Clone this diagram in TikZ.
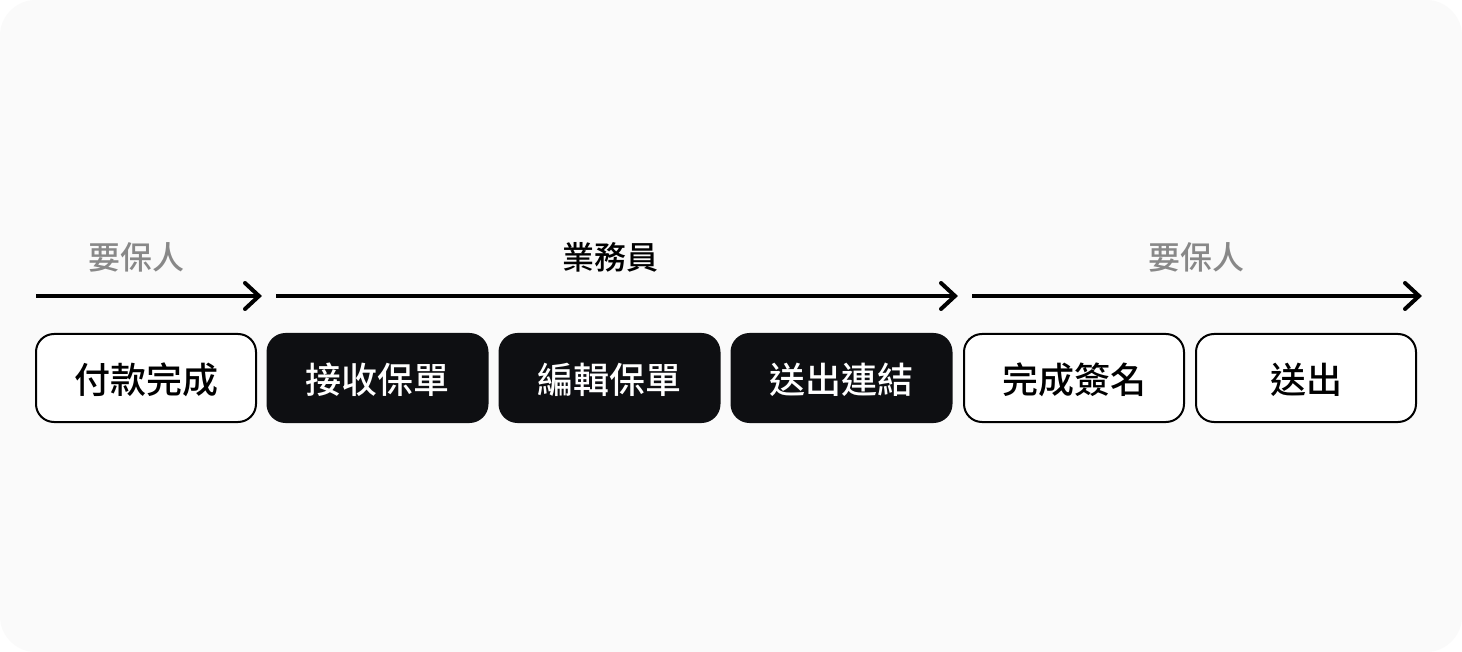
\documentclass[tikz,border=0pt]{standalone}
\usepackage{fontspec}
\newfontfamily\cjk{Noto Sans CJK TC}
\newfontfamily\cjkm{Noto Sans CJK TC Medium}
\definecolor{bgc}{HTML}{FAFAFA}
\definecolor{darkbox}{HTML}{0E0F12}
\definecolor{graytxt}{HTML}{888888}
\newcommand\steptxt[1]{\raisebox{-2pt}[\height][\depth]{#1}}
\tikzset{
  x=1pt,y=-1pt,
  lightbox/.style={draw=black,line width=2pt,fill=white,rounded corners=18pt,minimum width=220pt,minimum height=88pt,inner sep=0pt,font=\cjkm\fontsize{36}{40}\selectfont,text=black},
  darkstep/.style={draw=darkbox,line width=2pt,fill=darkbox,rounded corners=18pt,minimum width=220pt,minimum height=88pt,inner sep=0pt,font=\cjkm\fontsize{36}{40}\selectfont,text=white},
  flow/.style={line width=4pt,draw=black},
  chev/.style={line width=4pt,line cap=round,line join=miter,draw=black},
  rolegray/.style={font=\cjkm\fontsize{32}{35}\selectfont,text=graytxt},
  roledark/.style={font=\cjkm\fontsize{32}{35}\selectfont,text=black},
}
\begin{document}
\begin{tikzpicture}
\useasboundingbox (0,0) rectangle (1462,652);
\fill[white] (0,0) rectangle (1462,652);
\fill[bgc,rounded corners=36pt] (0,0) rectangle (1462,652);

% roles
\node[rolegray] (r1) at (136,257) {要保人};
\node[roledark] (r2) at (610,257) {業務員};
\node[rolegray] (r3) at (1196,257) {要保人};

% arrows
\coordinate (a1s) at (36,296);  \coordinate (a1e) at (259,296);
\coordinate (a2s) at (276,296); \coordinate (a2e) at (955,296);
\coordinate (a3s) at (972,296); \coordinate (a3e) at (1419,296);
\foreach \s/\e in {a1s/a1e,a2s/a2e,a3s/a3e}{
  \draw[flow] (\s) -- (\e);
  \draw[chev] ([shift={(-14,-13)}]\e) -- (\e) -- ([shift={(-14,13)}]\e);
}

% steps
\node[lightbox] (b1) at (146,378) {\steptxt{付款完成}};
\node[darkstep] (b2) at (377.5,378) {\steptxt{接收保單}};
\node[darkstep] (b3) at (609.5,378) {\steptxt{編輯保單}};
\node[darkstep] (b4) at (841.5,378) {\steptxt{送出連結}};
\node[lightbox] (b5) at (1074,378) {\steptxt{完成簽名}};
\node[lightbox] (b6) at (1306,378) {\steptxt{送出}};
\end{tikzpicture}
\end{document}
